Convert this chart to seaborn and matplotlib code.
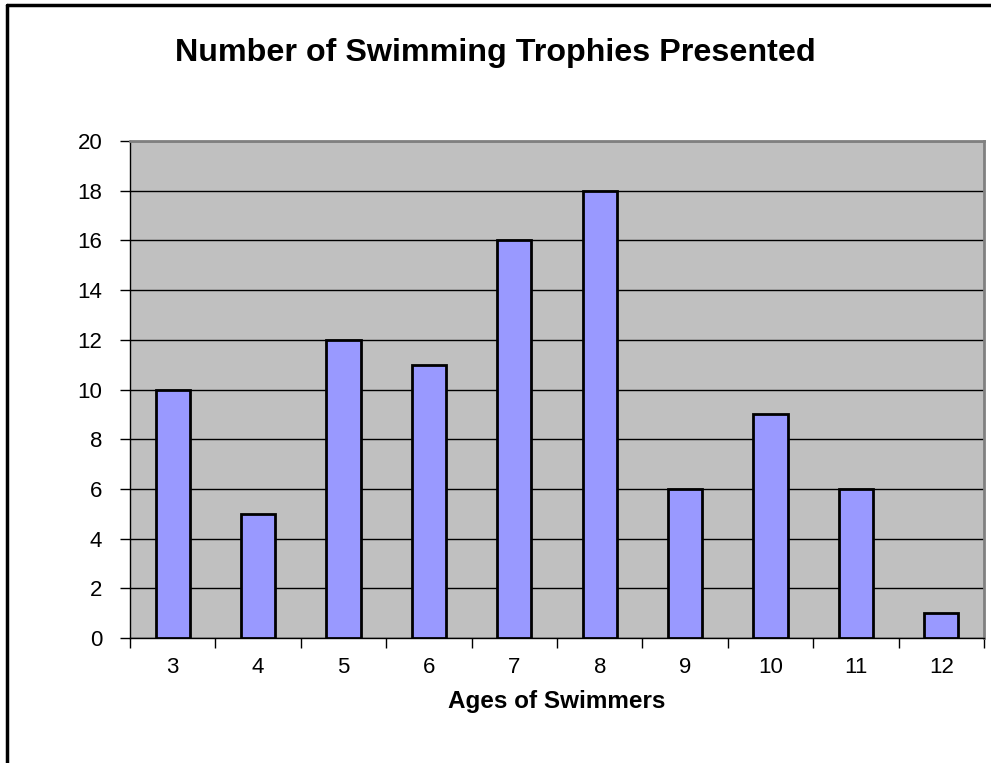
import matplotlib
matplotlib.use("Agg")
import matplotlib.pyplot as plt
import seaborn as sns
import pandas as pd
from matplotlib.lines import Line2D
from matplotlib.ticker import FixedLocator

ages = ["3", "4", "5", "6", "7", "8", "9", "10", "11", "12"]
trophies = [10, 5, 12, 11, 16, 18, 6, 9, 6, 1]
y_ticks = [0, 2, 4, 6, 8, 10, 12, 14, 16, 18, 20]

sns.set_style("white")
plt.rcParams['font.family'] = ['Liberation Sans', 'DejaVu Sans']
plt.rcParams['text.color'] = 'black'
plt.rcParams['xtick.color'] = 'black'
plt.rcParams['ytick.color'] = 'black'
plt.rcParams['axes.labelcolor'] = 'black'

df = pd.DataFrame({"Age": ages, "Trophies": trophies})

fig = plt.figure(figsize=(9.91, 7.63), dpi=100)
ax = fig.add_axes([130/991, 125/763, 854/991, 497/763])
ax.set_facecolor("#C0C0C0")

sns.barplot(data=df, x="Age", y="Trophies", order=ages, color="#9999FF",
            width=0.4, edgecolor="black", linewidth=2, saturation=1, ax=ax, zorder=3)

ax.set_ylim(0, 20)
ax.set_xlim(-0.5, len(ages) - 0.5)
ax.set_yticks(y_ticks)
ax.grid(axis="y", color="black", linewidth=1, zorder=1)
ax.set_axisbelow(True)

for s in ["top", "right"]:
    ax.spines[s].set_color("#808080")
    ax.spines[s].set_linewidth(2)
for s in ["left", "bottom"]:
    ax.spines[s].set_color("black")
    ax.spines[s].set_linewidth(1)

ax.tick_params(axis="y", direction="out", length=7, width=1, color="black",
               labelsize=16, pad=13, left=True, labelcolor="black")
ax.tick_params(axis="x", which="major", length=0, labelsize=16, pad=14, labelcolor="black")
ax.xaxis.set_minor_locator(FixedLocator([i - 0.5 for i in range(len(ages) + 1)]))
ax.tick_params(axis="x", which="minor", direction="out", length=7, width=1,
               color="black", bottom=True)

ax.set_ylabel("")
ax.set_xlabel("Ages of Swimmers", fontsize=17.5, fontweight="bold", color="black")
ax.xaxis.set_label_coords(0.5, -(690 - 638) / 497)
ax.xaxis.label.set_va("top")

fig.text(0.5, 1 - 53/763, "Number of Swimming Trophies Presented",
         fontsize=23.2, fontweight="bold", ha="center", va="center", color="black")

# outer chart frame (partially visible)
fig.add_artist(Line2D([7/991, 7/991], [0, 1 - 5/763], transform=fig.transFigure,
                      color="black", linewidth=2.5))
fig.add_artist(Line2D([7/991, 1], [1 - 5/763, 1 - 5/763], transform=fig.transFigure,
                      color="black", linewidth=2.5))

fig.savefig("out.png", dpi=100)
